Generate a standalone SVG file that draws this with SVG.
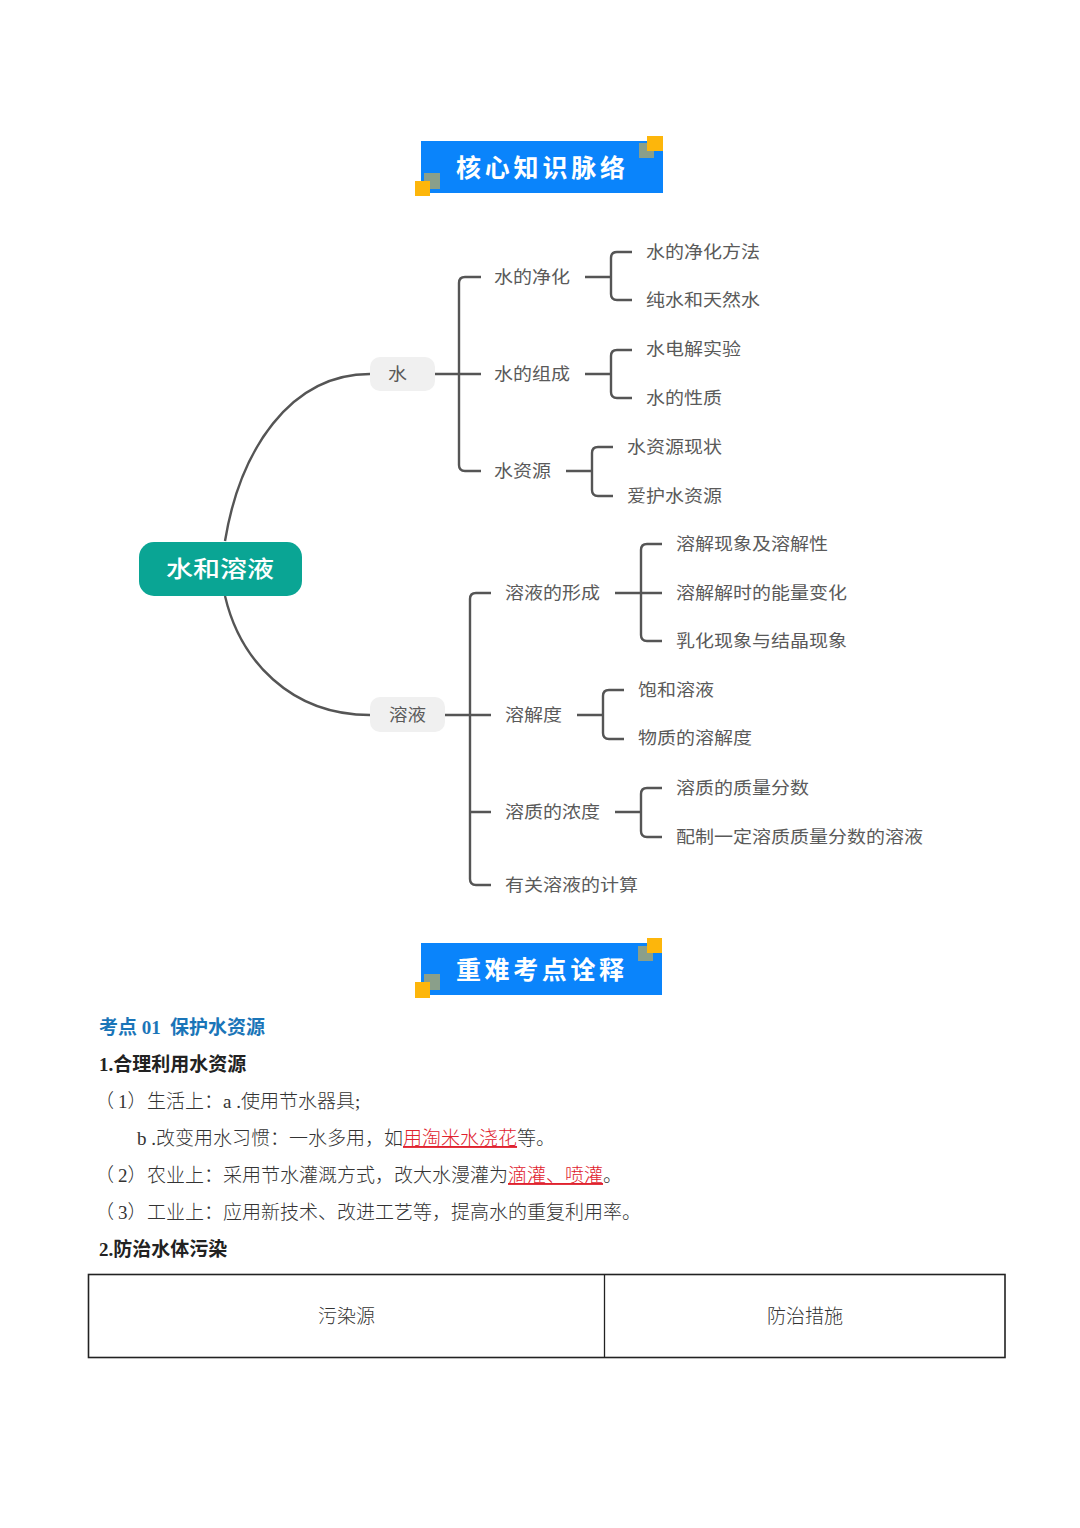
<svg xmlns="http://www.w3.org/2000/svg" width="1080" height="1528" viewBox="0 0 1080 1528">
<style>
text{font-family:"Noto Sans CJK SC","Noto Sans",sans-serif}
.m{font-size:17px;fill:#5a5a5a;font-weight:400}
.c{fill:none;stroke:#555;stroke-width:2.4;stroke-linecap:butt}
.b{font-family:"Liberation Serif","Noto Sans CJK SC",serif;font-size:19px;fill:#333;font-weight:300}
.h{font-family:"Liberation Serif","Noto Sans CJK SC",serif;font-size:19px;fill:#222;font-weight:700}
.r{fill:#e0222e;text-decoration:underline;text-underline-offset:3px}
.bn{fill:#0a84fb}.y{fill:#fdb60b}.g{fill:#8a9f8a}
.t{font-size:25px;font-weight:700;fill:#fff;text-anchor:start}
</style>
<rect width="1080" height="1528" fill="#fff"/>
<g id="banner-1">
<rect class="bn" x="421" y="141" width="242" height="52"/>
<rect class="g" x="639" y="143" width="15" height="15"/><rect class="y" x="647" y="136" width="16" height="15"/>
<rect class="g" x="424" y="173" width="16" height="16"/><rect class="y" x="415" y="181" width="15" height="15"/>
<text class="t" x="456" y="177" textLength="169">核心知识脉络</text>
</g>
<g id="connectors">
<path class="c" d="M225,541C240,450 290,374 370,374"/>
<path class="c" d="M225,596C240,660 290,715 370,715"/>
<path class="c" d="M435,374H481M481,277H465Q459,277 459,283V465Q459,471 465,471H481"/>
<path class="c" d="M585,277H611M632,252H617Q611,252 611,258V294Q611,300 617,300H632"/>
<path class="c" d="M585,374H611M632,350H617Q611,350 611,356V392Q611,398 617,398H632"/>
<path class="c" d="M566,471H592M613,447H598Q592,447 592,453V490Q592,496 598,496H613"/>
<path class="c" d="M445,715H491M491,593H476Q470,593 470,599V879Q470,885 476,885H491M470,812H491"/>
<path class="c" d="M615,593H662M662,544H647Q641,544 641,550V635Q641,641 647,641H662"/>
<path class="c" d="M577,715H603M624,690H609Q603,690 603,696V733Q603,739 609,739H624"/>
<path class="c" d="M615,812H641M662,788H647Q641,788 641,794V831Q641,837 647,837H662"/>
</g>
<g id="root"><rect x="139" y="542" width="163" height="54" rx="15" fill="#0aa594"/><text x="166" y="577" font-size="23" font-weight="500" fill="#fff" textLength="108" lengthAdjust="spacingAndGlyphs">水和溶液</text></g>
<g id="n-water"><rect x="370" y="357" width="65" height="34" rx="10" fill="#f0f0f0"/><text class="m" x="388" y="380" textLength="19" lengthAdjust="spacingAndGlyphs">水</text></g>
<g id="n-solution"><rect x="370" y="697" width="75" height="35" rx="10" fill="#f0f0f0"/><text class="m" x="389" y="721" textLength="37" lengthAdjust="spacingAndGlyphs">溶液</text></g>
<g id="n1"><text class="m" x="494" y="283" textLength="76" lengthAdjust="spacingAndGlyphs">水的净化</text></g>
<g id="n2"><text class="m" x="494" y="380" textLength="76" lengthAdjust="spacingAndGlyphs">水的组成</text></g>
<g id="n3"><text class="m" x="494" y="477" textLength="57" lengthAdjust="spacingAndGlyphs">水资源</text></g>
<g id="n4"><text class="m" x="646" y="258" textLength="114" lengthAdjust="spacingAndGlyphs">水的净化方法</text></g>
<g id="n5"><text class="m" x="646" y="306" textLength="114" lengthAdjust="spacingAndGlyphs">纯水和天然水</text></g>
<g id="n6"><text class="m" x="646" y="355" textLength="95" lengthAdjust="spacingAndGlyphs">水电解实验</text></g>
<g id="n7"><text class="m" x="646" y="404" textLength="76" lengthAdjust="spacingAndGlyphs">水的性质</text></g>
<g id="n8"><text class="m" x="627" y="453" textLength="95" lengthAdjust="spacingAndGlyphs">水资源现状</text></g>
<g id="n9"><text class="m" x="627" y="502" textLength="95" lengthAdjust="spacingAndGlyphs">爱护水资源</text></g>
<g id="n10"><text class="m" x="505" y="599" textLength="95" lengthAdjust="spacingAndGlyphs">溶液的形成</text></g>
<g id="n11"><text class="m" x="505" y="721" textLength="57" lengthAdjust="spacingAndGlyphs">溶解度</text></g>
<g id="n12"><text class="m" x="505" y="818" textLength="95" lengthAdjust="spacingAndGlyphs">溶质的浓度</text></g>
<g id="n13"><text class="m" x="505" y="891" textLength="133" lengthAdjust="spacingAndGlyphs">有关溶液的计算</text></g>
<g id="n14"><text class="m" x="676" y="550" textLength="152" lengthAdjust="spacingAndGlyphs">溶解现象及溶解性</text></g>
<g id="n15"><text class="m" x="676" y="599" textLength="171" lengthAdjust="spacingAndGlyphs">溶解解时的能量变化</text></g>
<g id="n16"><text class="m" x="676" y="647" textLength="171" lengthAdjust="spacingAndGlyphs">乳化现象与结晶现象</text></g>
<g id="n17"><text class="m" x="638" y="696" textLength="76" lengthAdjust="spacingAndGlyphs">饱和溶液</text></g>
<g id="n18"><text class="m" x="638" y="744" textLength="114" lengthAdjust="spacingAndGlyphs">物质的溶解度</text></g>
<g id="n19"><text class="m" x="676" y="794" textLength="133" lengthAdjust="spacingAndGlyphs">溶质的质量分数</text></g>
<g id="n20"><text class="m" x="676" y="843" textLength="247" lengthAdjust="spacingAndGlyphs">配制一定溶质质量分数的溶液</text></g>
<g id="banner-2">
<rect class="bn" x="421" y="943" width="241" height="52"/>
<rect class="g" x="638" y="946" width="15" height="15"/><rect class="y" x="647" y="938" width="15" height="15"/>
<rect class="g" x="424" y="974" width="16" height="16"/><rect class="y" x="415" y="982" width="15" height="16"/>
<text class="t" x="456" y="979" textLength="168">重难考点诠释</text>
</g>
<g id="body">
<text class="h" x="99" y="1034" style="fill:#1a75b8">考点 01</text>
<text class="h" x="170" y="1034" style="fill:#1a75b8">保护水资源</text>
<text class="h" x="99" y="1071">1.合理利用水资源</text>
<text class="b" y="1108"><tspan x="95">（</tspan><tspan x="118">1</tspan><tspan x="127.500">）</tspan><tspan x="147">生活上：a .使用节水器具;</tspan></text>
<text class="b" x="137" y="1145">b .改变用水习惯：一水多用，如<tspan class="r">用淘米水浇花</tspan>等。</text>
<text class="b" y="1182"><tspan x="95">（</tspan><tspan x="118">2</tspan><tspan x="127.500">）</tspan><tspan x="147">农业上：采用节水灌溉方式，改大水漫灌为<tspan class="r">滴灌、喷灌</tspan>。</tspan></text>
<text class="b" y="1219"><tspan x="95">（</tspan><tspan x="118">3</tspan><tspan x="127.500">）</tspan><tspan x="147">工业上：应用新技术、改进工艺等，提高水的重复利用率。</tspan></text>
<text class="h" x="99" y="1256">2.防治水体污染</text>
</g>
<g id="table">
<rect x="88.500" y="1274.500" width="916.500" height="83" fill="none" stroke="#222" stroke-width="1.600"/>
<line x1="604.500" y1="1274" x2="604.500" y2="1358" stroke="#222" stroke-width="1.300"/>
<text class="b" x="318" y="1323">污染源</text>
<text class="b" x="767" y="1323">防治措施</text>
</g>
</svg>
